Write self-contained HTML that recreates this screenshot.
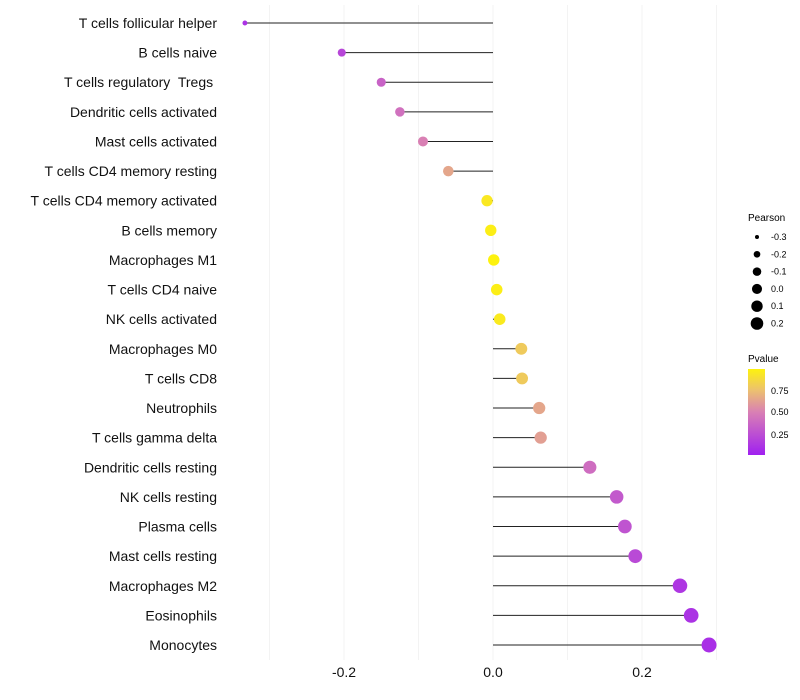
<!DOCTYPE html>
<html><head><meta charset="utf-8"><style>
body{margin:0;background:#fff;font-family:"Liberation Sans",sans-serif}
svg{display:block}
</style></head><body>
<svg id="chart" width="800" height="700" xmlns="http://www.w3.org/2000/svg">
<defs>
<linearGradient id="pg" x1="0" y1="1" x2="0" y2="0">
<stop offset="0" stop-color="#a020f0"/><stop offset="0.5" stop-color="#d980b4"/><stop offset="0.75" stop-color="#ecc070"/><stop offset="1" stop-color="#fdf20e"/>
</linearGradient>
</defs>
<g id="grid"></g>
<g id="marks"></g>
<g id="ylabels"></g>
<g id="xticks"></g>
<g font-size="9" fill="#000">
<text x="748" y="221" font-size="10">Pearson</text>
<g id="sizeleg"></g>
</g>
<g font-size="9" fill="#000">
<text x="748" y="362" font-size="10">Pvalue</text>
<rect x="748" y="369" width="17" height="86" fill="url(#pg)"/>
<text x="771" y="394">0.75</text><text x="771" y="415">0.50</text><text x="771" y="438">0.25</text>
</g>
</svg>
<script>
const categories=["T cells follicular helper","B cells naive","T cells regulatory  Tregs ","Dendritic cells activated","Mast cells activated","T cells CD4 memory resting","T cells CD4 memory activated","B cells memory","Macrophages M1","T cells CD4 naive","NK cells activated","Macrophages M0","T cells CD8","Neutrophils","T cells gamma delta","Dendritic cells resting","NK cells resting","Plasma cells","Mast cells resting","Macrophages M2","Eosinophils","Monocytes"];
const pearson=[-0.333,-0.203,-0.150,-0.125,-0.094,-0.060,-0.008,-0.003,0.001,0.005,0.009,0.038,0.039,0.062,0.064,0.130,0.166,0.177,0.191,0.251,0.266,0.290];
const pvalue=[0.10,0.20,0.35,0.42,0.50,0.65,0.95,0.98,1.0,0.98,0.96,0.80,0.80,0.65,0.62,0.40,0.30,0.27,0.22,0.12,0.10,0.08];
const xTicks=[-0.2,0.0,0.2];
const xTickLabels=["-0.2","0.0","0.2"];
const gridVals=[-0.3,-0.2,-0.1,0,0.1,0.2,0.3];
const sizeLegendVals=[-0.3,-0.2,-0.1,0.0,0.1,0.2];
const sizeLegendLabels=["-0.3","-0.2","-0.1","0.0","0.1","0.2"];
const NS="http://www.w3.org/2000/svg";
const xs=v=>493+v*745;
const ys=i=>23+i*(622/21);
const rs=v=>Math.sqrt(Math.max(1,6+80*(v+0.333)));
function mk(t,a,p){const e=document.createElementNS(NS,t);for(const k in a)e.setAttribute(k,a[k]);p.appendChild(e);return e;}
function lerp(a,b,t){return a.map((x,i)=>Math.round(x+(b[i]-x)*t));}
const stops=[[0,[160,32,240]],[0.5,[217,128,180]],[0.75,[236,192,112]],[1,[253,242,14]]];
function col(p){for(let i=1;i<stops.length;i++){if(p<=stops[i][0]){const t=(p-stops[i-1][0])/(stops[i][0]-stops[i-1][0]);return "rgb("+lerp(stops[i-1][1],stops[i][1],t).join(",")+")";}}return "rgb(253,242,14)";}
const g=document.getElementById('grid');
gridVals.forEach(v=>{const l=mk('line',{x1:xs(v),x2:xs(v),y1:5,y2:660,stroke:'#f3f3f3','stroke-width':1},g);

});
const m=document.getElementById('marks'),yl=document.getElementById('ylabels');
categories.forEach((c,i)=>{const y=ys(i);
const s=mk('line',{x1:xs(0),x2:xs(pearson[i]),y1:y,y2:y,stroke:'#222','stroke-width':1},m);


const d=mk('circle',{cx:xs(pearson[i]),cy:y,r:rs(pearson[i]),fill:col(pvalue[i])},m);


const t=mk('text',{x:217,y:y+5,'text-anchor':'end','font-size':14,fill:'#111','xml:space':'preserve'},yl);t.style.whiteSpace='pre';t.textContent=c;

});
const xt=document.getElementById('xticks');
xTicks.forEach((v,i)=>{const t=mk('text',{x:xs(v),y:677,'text-anchor':'middle','font-size':14,fill:'#111'},xt);t.textContent=xTickLabels[i];

});
const sl=document.getElementById('sizeleg');
sizeLegendVals.forEach((v,i)=>{const y=237+i*17.3;
const c=mk('circle',{cx:757,cy:y,r:Math.sqrt(5+44*(v+0.3)/0.5)*0.9,fill:'#000'},sl);


const t=mk('text',{x:771,y:y+3},sl);t.textContent=sizeLegendLabels[i];

});
</script>
</body></html>
